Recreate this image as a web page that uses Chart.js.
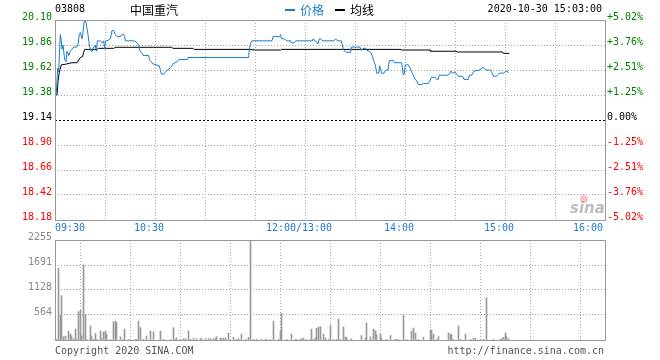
<!DOCTYPE html>
<html>
<head>
<meta charset="utf-8">
<script src="https://cdn.jsdelivr.net/npm/chart.js@4/dist/chart.umd.min.js"></script>
<style>
  body { margin: 0; background: #fff; }
  canvas { position: absolute; left: 0; }
  #price { top: 0; }
  #volume { top: 226px; }
</style>
</head>
<body>
<canvas id="price" width="660" height="236"></canvas>
<canvas id="volume" width="660" height="134"></canvas>
<script>
// minutes since 09:30 (lunch break removed, 13:00 = 150)
const priceMinutes = [0, 0.8, 1.6, 2.2, 3.2, 3.8, 4.2, 4.8, 5.8, 6.6, 7.2, 7.8, 8.2, 9.2, 10.2, 11.2, 13.2, 13.8, 14.6, 15.2,
  16.2, 16.8, 17.4, 17.8, 18.6, 19.2, 19.8, 20.6, 21.2, 21.8, 22.4, 23, 23.8, 24.2, 24.8, 25.4, 27.2, 28.2, 29.2, 29.8,
  30.2, 31.2, 33.2, 34.2, 35.2, 36.2, 37.2, 39.2, 40.2, 41.2, 41.8, 42.2, 47.8, 49.2, 50.2, 50.6, 51.2, 52.2, 52.8, 56.2,
  56.6, 57.8, 58.6, 62.6, 63.2, 63.8, 65.2, 66.2, 67.2, 68, 68.8, 70.2, 70.8, 73.4, 74.2, 79.4, 79.8, 115.8, 116.2, 116.8,
  117.4, 118.2, 130.2, 130.8, 134.8, 135.4, 135.8, 137.4, 138.4, 139, 141.4, 141.8, 143.4, 144.4, 154.4, 155, 155.8, 157, 157.8, 158.6,
  159.4, 160.4, 167.4, 168.4, 169.4, 171.8, 172.4, 173, 173.8, 175, 177.4, 177.8, 183, 183.8, 185.4, 186.4, 187, 188.4, 189.8, 190.4,
  191.4, 192.2, 193, 194.2, 194.8, 195.4, 195.8, 197.4, 198.4, 199.8, 200.6, 203, 203.8, 208, 208.6, 209, 209.6, 210.2, 212, 213,
  214, 215, 216, 217, 218, 220, 221, 224, 225, 226, 228, 229, 230, 230.6, 235, 236.6, 237.4, 238.6, 240, 241,
  242, 244.6, 245.4, 248, 248.6, 250, 251.4, 255, 256, 257.4, 258.6, 261.4, 262.6, 263, 265, 266, 266.6, 269.4, 270.6, 271.4, 272];
const priceValues = [19.48, 19.40, 19.64, 19.60, 19.96, 19.90, 19.82, 19.86, 19.72, 19.70, 19.80, 19.78, 19.76, 19.80, 19.82, 19.84, 19.84, 19.86, 19.96, 19.98,
  19.92, 19.98, 20.08, 20.10, 20.08, 20.02, 19.96, 19.86, 19.82, 19.80, 19.80, 19.84, 19.84, 19.86, 19.80, 19.90, 19.90, 19.88, 19.90, 19.82,
  19.90, 19.90, 19.92, 20.00, 20.00, 19.96, 19.94, 19.94, 19.96, 19.96, 19.94, 19.90, 19.90, 19.88, 19.86, 19.82, 19.80, 19.78, 19.76, 19.76,
  19.72, 19.70, 19.68, 19.66, 19.62, 19.58, 19.58, 19.60, 19.62, 19.62, 19.64, 19.66, 19.68, 19.70, 19.72, 19.72, 19.74, 19.74, 19.76, 19.84,
  19.88, 19.90, 19.90, 19.94, 19.94, 19.96, 19.92, 19.92, 19.91, 19.90, 19.90, 19.88, 19.88, 19.90, 19.90, 19.92, 19.90, 19.89, 19.87, 19.92,
  19.92, 19.90, 19.90, 19.92, 19.90, 19.90, 19.86, 19.82, 19.80, 19.79, 19.79, 19.84, 19.84, 19.81, 19.83, 19.83, 19.81, 19.80, 19.78, 19.75,
  19.70, 19.67, 19.59, 19.59, 19.66, 19.63, 19.59, 19.59, 19.62, 19.62, 19.71, 19.71, 19.69, 19.69, 19.62, 19.57, 19.59, 19.67, 19.67, 19.64,
  19.60, 19.57, 19.53, 19.52, 19.48, 19.48, 19.49, 19.49, 19.52, 19.55, 19.55, 19.53, 19.53, 19.57, 19.57, 19.58, 19.61, 19.59, 19.60, 19.58,
  19.56, 19.56, 19.53, 19.53, 19.57, 19.57, 19.61, 19.62, 19.64, 19.64, 19.62, 19.62, 19.58, 19.56, 19.56, 19.58, 19.59, 19.59, 19.61, 19.61, 19.59];

const avgMinutes = [0.2, 1.2, 1.8, 2.6, 3.8, 6.2, 10.2, 13.2, 14.2, 15.2, 16.6, 17.2, 17.8, 25.2, 26.2, 35.2, 36.2, 70, 70.8, 82.8,
  83.4, 115.8, 120.2, 135.4, 135.8, 207.6, 208, 225, 225.4, 240.6, 241.4, 268.6, 269, 272.6];
const avgValues = [19.38, 19.38, 19.51, 19.60, 19.67, 19.675, 19.69, 19.69, 19.716, 19.74, 19.75, 19.79, 19.818, 19.818, 19.828, 19.828, 19.838, 19.838, 19.828, 19.828,
  19.818, 19.818, 19.812, 19.812, 19.818, 19.818, 19.812, 19.812, 19.80, 19.80, 19.793, 19.793, 19.78, 19.78];

const volMinutes = [1, 2, 3, 4, 5, 6, 8, 9, 10, 11, 12, 13, 14, 15, 16, 17, 18, 19, 21, 22,
  23, 24, 25, 27, 28, 29, 30, 31, 33, 35, 36, 37, 39, 41, 42, 44, 48, 49, 50, 51,
  53, 55, 57, 59, 63, 65, 69, 71, 72, 73, 75, 77, 78, 80, 81, 83, 85, 87, 88, 90,
  92, 93, 95, 96, 97, 99, 100, 101, 102, 104, 107, 109, 110, 112, 114, 116, 117, 119, 121, 124,
  126, 127, 129, 131, 134, 135, 136, 139, 142, 144, 145, 147, 148, 149, 151, 153, 154, 155, 156, 157,
  158, 159, 161, 162, 164, 165, 167, 169, 170, 171, 173, 174, 175, 178, 184, 186, 187, 189, 191, 192,
  193, 195, 196, 199, 201, 204, 205, 206, 209, 211, 214, 215, 216, 218, 221, 225, 226, 227, 229, 230,
  236, 237, 238, 239, 242, 243, 246, 249, 251, 252, 255, 257, 259, 263, 267, 268, 269, 270, 271, 272];
const volValues = [10, 1617, 564, 1000, 75, 90, 203, 135, 90, 30, 248, 15, 639, 669, 90, 1691, 579, 15, 323, 90,
  15, 150, 15, 203, 30, 180, 203, 135, 15, 413, 428, 390, 75, 15, 248, 15, 8, 8, 428, 278,
  15, 90, 203, 180, 203, 15, 8, 278, 15, 45, 15, 30, 30, 203, 15, 30, 30, 30, 30, 30,
  30, 30, 30, 30, 75, 45, 30, 45, 45, 158, 60, 15, 30, 135, 15, 60, 2255, 15, 8, 8,
  8, 15, 8, 428, 8, 203, 601, 8, 135, 8, 8, 15, 30, 45, 8, 15, 248, 15, 55, 263,
  293, 300, 135, 45, 15, 323, 8, 8, 473, 8, 293, 70, 55, 30, 100, 45, 383, 70, 248, 210,
  120, 135, 45, 8, 100, 8, 8, 8, 564, 8, 203, 270, 158, 8, 60, 225, 225, 135, 15, 75,
  158, 135, 120, 15, 323, 15, 135, 8, 40, 40, 8, 8, 955, 8, 8, 30, 60, 158, 75, 30];

const prevClose = 19.14;
const priceTicks = [18.18, 18.42, 18.66, 18.90, 19.14, 19.38, 19.62, 19.86, 20.10];
const pctLabels = ['-5.02%', '-3.76%', '-2.51%', '-1.25%', '0.00%', '+1.25%', '+2.51%', '+3.76%', '+5.02%'];
const volTicks = [0, 564, 1128, 1691, 2255];
const gridMinutes = [0, 30, 60, 90, 120, 150, 180, 210, 240, 270, 300, 330];
const timeLabelMinutes = [0, 60, 150, 210, 270, 330];
const timeLabels = ['09:30', '10:30', '12:00/13:00', '14:00', '15:00', '16:00'];

const BLUE = '#1b7dcc';
const GRID = '#aaaaaa';
const FRAME = '#999999';
const MONO = '10px "DejaVu Sans Mono"';
const CJK = '12px "Noto Sans CJK SC"';

function colorFor(v) {
  if (v > prevClose) return '#008000';
  if (v < prevClose) return '#ff0000';
  return '#000000';
}

// solid frame round the plot area
const framePlugin = {
  id: 'frame',
  afterDraw(chart) {
    const a = chart.chartArea;
    const ctx = chart.ctx;
    ctx.save();
    ctx.strokeStyle = FRAME;
    ctx.lineWidth = 1;
    ctx.strokeRect(a.left + 0.5, a.top + 0.5, a.right - a.left, a.bottom - a.top);
    ctx.restore();
  }
};

// header, time labels and watermark
const pricePlugin = {
  id: 'priceDeco',
  afterDraw(chart) {
    const ctx = chart.ctx;
    const x = chart.scales.x;
    ctx.save();
    ctx.textBaseline = 'middle';
    ctx.font = MONO;
    ctx.fillStyle = '#000';
    ctx.textAlign = 'left';
    ctx.fillText('03808', 55, 9);
    ctx.textAlign = 'right';
    ctx.fillText('2020-10-30 15:03:00', 602, 9);
    ctx.font = CJK;
    ctx.textAlign = 'left';
    ctx.fillText('中国重汽', 130, 10);
    ctx.fillStyle = BLUE;
    ctx.fillRect(285, 9, 10, 2);
    ctx.fillText('价格', 300, 10);
    ctx.fillStyle = '#000';
    ctx.fillRect(335, 9, 10, 2);
    ctx.fillText('均线', 350, 10);

    ctx.font = MONO;
    ctx.fillStyle = BLUE;
    timeLabelMinutes.forEach((m, i) => {
      const px = x.getPixelForValue(m);
      if (i === 0) {
        ctx.textAlign = 'left';
        ctx.fillText(timeLabels[i], px, 228);
      } else if (i === timeLabels.length - 1) {
        ctx.textAlign = 'right';
        ctx.fillText(timeLabels[i], px - 2, 228);
      } else {
        ctx.textAlign = 'center';
        ctx.fillText(timeLabels[i], px - 6, 228);
      }
    });

    // sina watermark
    ctx.fillStyle = 'rgba(235, 120, 120, 0.45)';
    ctx.beginPath();
    ctx.arc(584, 199, 4, 0, Math.PI * 2);
    ctx.fill();
    ctx.font = 'italic bold 15px "DejaVu Sans"';
    ctx.fillStyle = 'rgba(160, 160, 160, 0.7)';
    ctx.textAlign = 'left';
    ctx.fillText('sina', 570, 209);
    ctx.restore();
  }
};

const volumePlugin = {
  id: 'volumeDeco',
  // snap the 1px bars to whole pixels so they stay crisp
  afterDatasetsUpdate(chart) {
    chart.getDatasetMeta(0).data.forEach(bar => {
      bar.x = Math.floor(bar.x) + 0.5;
    });
  },
  afterDraw(chart) {
    const ctx = chart.ctx;
    ctx.save();
    ctx.font = MONO;
    ctx.fillStyle = '#555';
    ctx.textBaseline = 'middle';
    ctx.textAlign = 'left';
    ctx.fillText('Copyright 2020 SINA.COM', 55, 125);
    ctx.textAlign = 'right';
    ctx.fillText('http://finance.sina.com.cn', 604, 125);
    ctx.restore();
  }
};

const xScale = {
  type: 'linear',
  min: 0,
  max: 330,
  afterBuildTicks: s => { s.ticks = gridMinutes.map(v => ({ value: v })); },
  ticks: { display: false },
  grid: { color: GRID, drawTicks: false },
  border: { display: false, dash: [1, 2] }
};

new Chart(document.getElementById('price'), {
  type: 'line',
  data: {
    datasets: [
      {
        data: priceMinutes.map((m, i) => ({ x: m, y: priceValues[i] })),
        borderColor: BLUE,
        borderWidth: 1,
        pointRadius: 0
      },
      {
        data: avgMinutes.map((m, i) => ({ x: m, y: avgValues[i] })),
        borderColor: '#000',
        borderWidth: 1,
        pointRadius: 0
      }
    ]
  },
  options: {
    responsive: false,
    animation: false,
    devicePixelRatio: 1,
    layout: { padding: { top: 20, bottom: 16, left: 0, right: 0 } },
    plugins: { legend: { display: false }, tooltip: { enabled: false } },
    scales: {
      x: xScale,
      y: {
        position: 'left',
        min: 18.18,
        max: 20.10,
        afterBuildTicks: s => { s.ticks = priceTicks.map(v => ({ value: v })); },
        afterFit: s => { s.width = 55; },
        ticks: {
          font: { family: 'DejaVu Sans Mono', size: 10 },
          color: c => colorFor(c.tick.value),
          padding: 3,
          labelOffset: -3,
          callback: v => v.toFixed(2)
        },
        grid: {
          drawTicks: false,
          color: c => (c.tick && c.tick.value === prevClose) ? '#000' : GRID
        },
        border: {
          display: false,
          dash: c => (c.tick && c.tick.value === prevClose) ? [2, 2] : [1, 2]
        }
      },
      y2: {
        position: 'right',
        min: 18.18,
        max: 20.10,
        afterBuildTicks: s => { s.ticks = priceTicks.map(v => ({ value: v })); },
        afterFit: s => { s.width = 55; },
        ticks: {
          font: { family: 'DejaVu Sans Mono', size: 10 },
          color: c => colorFor(c.tick.value),
          padding: 2,
          labelOffset: -3,
          callback: (v, i) => pctLabels[i]
        },
        grid: { display: false, drawTicks: false },
        border: { display: false }
      }
    }
  },
  plugins: [framePlugin, pricePlugin]
});

new Chart(document.getElementById('volume'), {
  type: 'bar',
  data: {
    datasets: [{
      data: volMinutes.map((m, i) => ({ x: m, y: volValues[i] })),
      backgroundColor: '#999999',
      barThickness: 1
    }]
  },
  options: {
    responsive: false,
    animation: false,
    devicePixelRatio: 1,
    layout: { padding: { top: 14, bottom: 20, left: 0, right: 55 } },
    plugins: { legend: { display: false }, tooltip: { enabled: false } },
    scales: {
      x: Object.assign({}, xScale, { offset: false }),
      y: {
        min: 0,
        max: 2255,
        afterBuildTicks: s => { s.ticks = volTicks.map(v => ({ value: v })); },
        afterFit: s => { s.width = 55; },
        ticks: {
          font: { family: 'DejaVu Sans Mono', size: 10 },
          color: '#888',
          padding: 3,
          labelOffset: -3,
          callback: v => v === 0 ? '' : String(v)
        },
        grid: { color: GRID, drawTicks: false },
        border: { display: false, dash: [1, 2] }
      }
    }
  },
  plugins: [framePlugin, volumePlugin]
});
</script>
</body>
</html>
